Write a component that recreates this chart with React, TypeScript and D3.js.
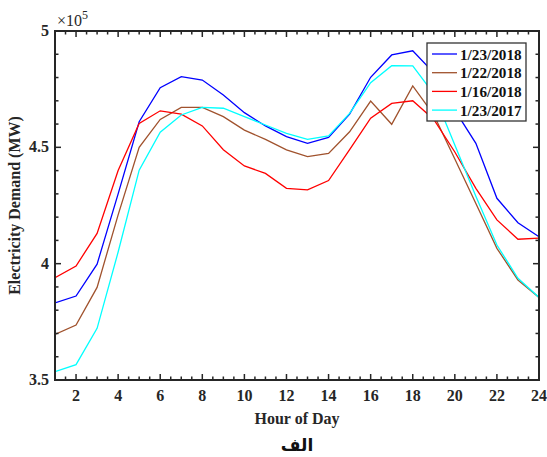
import React from "react";
import * as d3 from "d3";

const hours = d3.range(1, 25);
const seriesNames = ["1/23/2018", "1/22/2018", "1/16/2018", "1/23/2017"];
const seriesColors = ["#0000ff", "#a0522d", "#ff0000", "#00ffff"];
const blue2018_0123 = [3.831, 3.861, 3.998, 4.30, 4.61, 4.756, 4.804, 4.789, 4.725, 4.649, 4.592, 4.546, 4.517, 4.543, 4.643, 4.801, 4.897, 4.915, 4.82, 4.66, 4.517, 4.281, 4.176, 4.116];
const brown2018_0122 = [3.696, 3.736, 3.898, 4.21, 4.50, 4.620, 4.672, 4.672, 4.632, 4.574, 4.534, 4.489, 4.460, 4.474, 4.567, 4.699, 4.599, 4.764, 4.64, 4.45, 4.259, 4.066, 3.930, 3.855];
const red2018_0116 = [3.940, 3.990, 4.130, 4.40, 4.603, 4.657, 4.643, 4.592, 4.49, 4.420, 4.388, 4.324, 4.317, 4.357, 4.49, 4.625, 4.689, 4.700, 4.62, 4.48, 4.324, 4.188, 4.105, 4.110];
const cyan2017_0123 = [3.536, 3.566, 3.722, 4.05, 4.402, 4.565, 4.639, 4.672, 4.668, 4.632, 4.596, 4.560, 4.534, 4.549, 4.646, 4.778, 4.851, 4.850, 4.73, 4.51, 4.29, 4.080, 3.937, 3.855];
const seriesValues = [blue2018_0123, brown2018_0122, red2018_0116, cyan2017_0123];
const xTickLabels = [2, 4, 6, 8, 10, 12, 14, 16, 18, 20, 22, 24];
const yTickLabels = [3.5, 4, 4.5, 5];

export default function App() {
  const W = 547, H = 457;
  const L = 55, R = 539, T = 31, B = 380;
  const x = d3.scaleLinear().domain([1, 24]).range([L, R]);
  const y = d3.scaleLinear().domain([3.5, 5]).range([B, T]);
  const line = d3.line<number>().x((_, i) => x(hours[i])).y((v) => y(v));
  const axisColor = "#262626";
  const font = "'Liberation Serif', 'Times New Roman', serif";
  const xMinor = d3.range(1, 24.01, 0.5);
  const yMinor = d3.range(3.5, 5.001, 0.1);
  const isMajorX = (v: number) => Math.abs(v / 2 - Math.round(v / 2)) < 1e-6;
  const isMajorY = (v: number) => Math.abs(v * 2 - Math.round(v * 2)) < 1e-6;
  return (
    <svg width={W} height={H} style={{ position: "absolute", left: 0, top: 0, background: "#fff" }}>
      <defs>
        <clipPath id="plot"><rect x={L} y={T} width={R - L} height={B - T} /></clipPath>
      </defs>
      <g clipPath="url(#plot)">
        {seriesValues.map((vals, i) => (
          <path key={i} d={line(vals) || ""} fill="none" stroke={seriesColors[i]} strokeWidth={1.3} />
        ))}
      </g>
      {xMinor.map((v, i) => {
        const len = isMajorX(v) ? 6 : 3.5;
        return (
          <g key={"xt" + i} stroke={axisColor} strokeWidth={1.5}>
            <line x1={x(v)} x2={x(v)} y1={B} y2={B - len} />
            <line x1={x(v)} x2={x(v)} y1={T} y2={T + len} />
          </g>
        );
      })}
      {yMinor.map((v, i) => {
        const len = isMajorY(v) ? 6 : 3.5;
        return (
          <g key={"yt" + i} stroke={axisColor} strokeWidth={1.5}>
            <line x1={L} x2={L + len} y1={y(v)} y2={y(v)} />
            <line x1={R} x2={R - len} y1={y(v)} y2={y(v)} />
          </g>
        );
      })}
      <rect x={L} y={T} width={R - L} height={B - T} fill="none" stroke={axisColor} strokeWidth={2} />
      {xTickLabels.map((v) => (
        <text key={"xl" + v} x={x(v)} y={401} textAnchor="middle" fontFamily={font} fontWeight="bold" fontSize={16} fill={axisColor}>{v}</text>
      ))}
      {yTickLabels.map((v) => (
        <text key={"yl" + v} x={49} y={y(v) + 5} textAnchor="end" fontFamily={font} fontWeight="bold" fontSize={16} fill={axisColor}>{v}</text>
      ))}
      <text x={57} y={26} fontFamily={font} fontSize={16} fill={axisColor}>×10<tspan dy={-7} fontSize={12}>5</tspan></text>
      <text x={(L + R) / 2} y={424} textAnchor="middle" fontFamily={font} fontWeight="bold" fontSize={16} fill={axisColor}>Hour of Day</text>
      <text transform={`translate(20,${(T + B) / 2}) rotate(-90)`} textAnchor="middle" fontFamily={font} fontWeight="bold" fontSize={16} fill={axisColor}>Electricity Demand (MW)</text>
      <text x={(L + R) / 2} y={451} textAnchor="middle" fontFamily="'DejaVu Sans', 'Noto Sans', sans-serif" fontWeight="bold" fontSize={17} fill="#111">الف</text>
      <g>
        <rect x={427} y={43} width={99} height={78} fill="#fff" stroke="#333" strokeWidth={1.3} />
        {seriesNames.map((n, i) => (
          <g key={n}>
            <line x1={432} x2={457} y1={54 + i * 18.7} y2={54 + i * 18.7} stroke={seriesColors[i]} strokeWidth={1.3} />
            <text x={460} y={59.5 + i * 18.7} fontFamily={font} fontWeight="bold" fontSize={15.2} fill="#111">{n}</text>
          </g>
        ))}
      </g>
    </svg>
  );
}
